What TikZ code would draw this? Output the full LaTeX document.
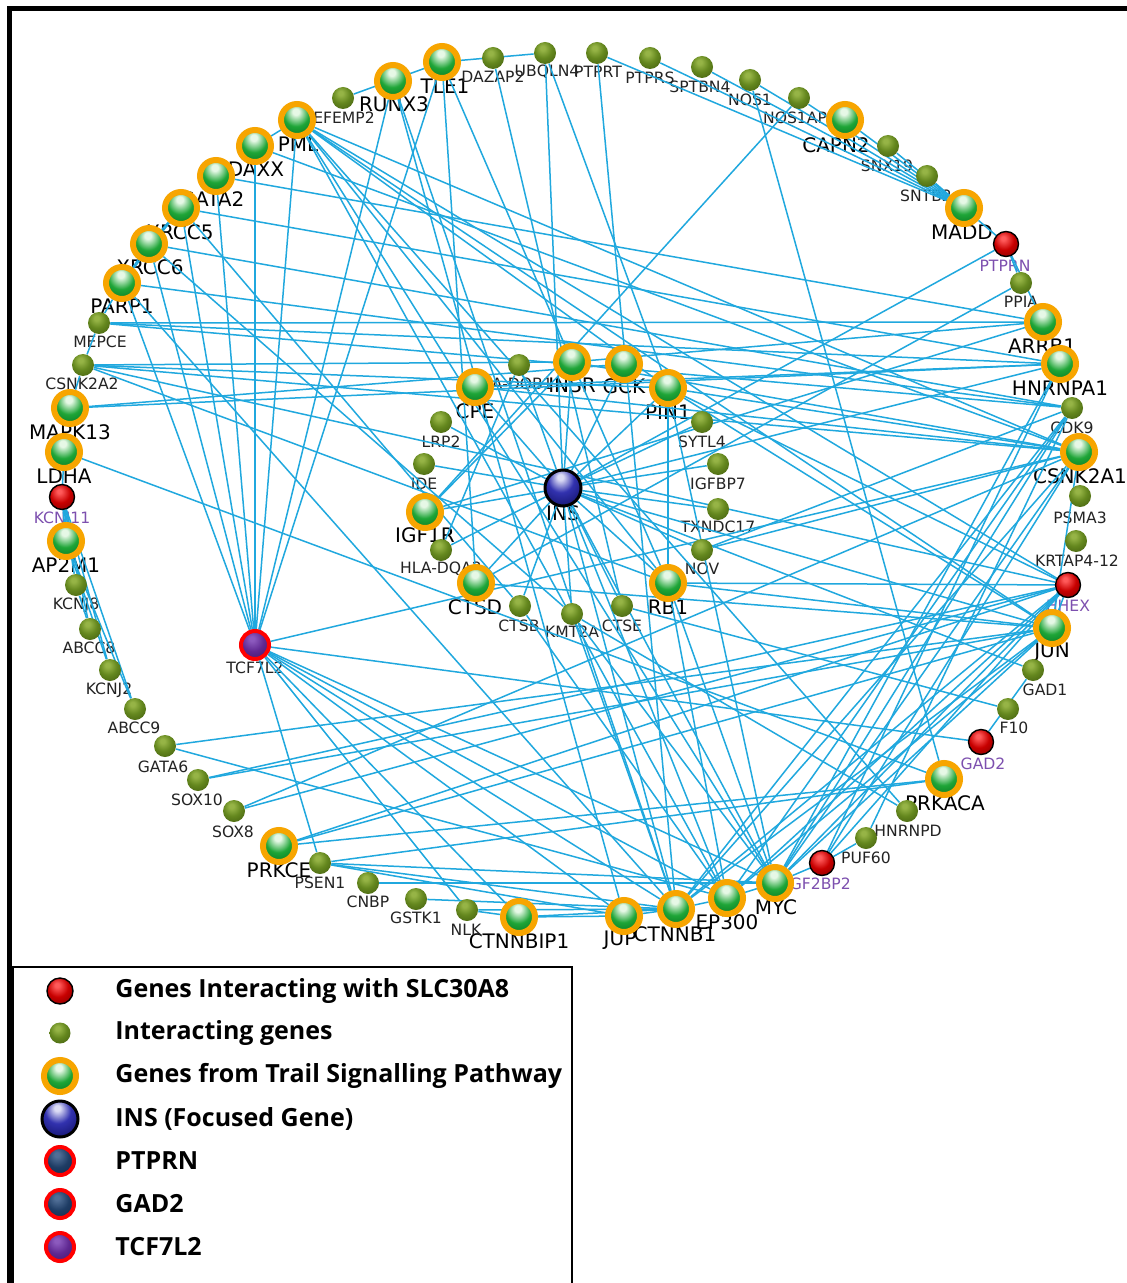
\documentclass[tikz,border=0pt]{standalone}
\usepackage{fontspec}
\setmainfont{DejaVu Sans}
\newfontfamily\lgf{Open Sans}
\pgfdeclarelayer{lab}
\pgfdeclarelayer{fg}
\pgfsetlayers{lab,main,fg}
\definecolor{cyn}{RGB}{32,168,222}
\definecolor{org}{RGB}{247,165,0}
\definecolor{plab}{RGB}{125,80,175}
\definecolor{gHi}{RGB}{230,248,230}\definecolor{gMid}{RGB}{30,165,55}\definecolor{gDk}{RGB}{0,100,25}
\definecolor{oHi}{RGB}{150,180,70}\definecolor{oMid}{RGB}{100,135,30}\definecolor{oDk}{RGB}{60,85,12}
\definecolor{rHi}{RGB}{255,90,90}\definecolor{rMid}{RGB}{200,0,0}\definecolor{rDk}{RGB}{110,0,0}
\definecolor{bHi}{RGB}{220,220,245}\definecolor{bMid}{RGB}{50,50,175}\definecolor{bDk}{RGB}{10,10,90}
\definecolor{nHi}{RGB}{80,110,150}\definecolor{nMid}{RGB}{30,60,100}\definecolor{nDk}{RGB}{15,35,65}
\definecolor{pHi}{RGB}{140,90,190}\definecolor{pMid}{RGB}{95,40,145}\definecolor{pDk}{RGB}{55,20,95}
\pgfdeclareradialshading{gball}{\pgfqpoint{-2bp}{14bp}}{color(0bp)=(gHi); color(5bp)=(gHi); color(20bp)=(gMid); color(42bp)=(gDk); color(70bp)=(gDk)}
\pgfdeclareradialshading{oball}{\pgfqpoint{-6bp}{12bp}}{color(0bp)=(oHi); color(5bp)=(oHi); color(20bp)=(oMid); color(44bp)=(oDk); color(70bp)=(oDk)}
\pgfdeclareradialshading{rball}{\pgfqpoint{-6bp}{12bp}}{color(0bp)=(rHi); color(4bp)=(rHi); color(20bp)=(rMid); color(44bp)=(rDk); color(70bp)=(rDk)}
\pgfdeclareradialshading{bball}{\pgfqpoint{-4bp}{16bp}}{color(0bp)=(bHi); color(4bp)=(bHi); color(18bp)=(bMid); color(42bp)=(bDk); color(70bp)=(bDk)}
\pgfdeclareradialshading{nball}{\pgfqpoint{-6bp}{12bp}}{color(0bp)=(nHi); color(4bp)=(nHi); color(20bp)=(nMid); color(44bp)=(nDk); color(70bp)=(nDk)}
\pgfdeclareradialshading{pball}{\pgfqpoint{-6bp}{12bp}}{color(0bp)=(pHi); color(4bp)=(pHi); color(20bp)=(pMid); color(44bp)=(pDk); color(70bp)=(pDk)}
\tikzset{
  sm/.style={circle, inner sep=0pt, minimum size=11pt, shading=oball},
  tr/.style={circle, inner sep=0pt, minimum size=16pt, line width=3pt, draw=org, shading=gball},
  rd/.style={circle, inner sep=0pt, minimum size=12.5pt, draw=black, line width=0.7pt, shading=rball},
  insn/.style={circle, inner sep=0pt, minimum size=18pt, draw=black, line width=1.5pt, shading=bball},
  tcf/.style={circle, inner sep=0pt, minimum size=14pt, draw=red, line width=2pt, shading=pball},
  ptp/.style={circle, inner sep=0pt, minimum size=14pt, draw=red, line width=2pt, shading=nball},
  bl/.style={inner sep=0pt, font=\fontsize{10}{10}\selectfont, text=black},
  sl/.style={inner sep=0pt, font=\fontsize{7.8}{8}\selectfont, text={rgb,255:red,35;green,35;blue,35}},
  pl/.style={inner sep=0pt, font=\fontsize{7.8}{8}\selectfont, text=plab},
  lnk/.style={draw=cyn, line width=0.75pt},
  lgt/.style={anchor=west, inner sep=0pt, font=\lgf\bfseries\fontsize{12.5}{13}\selectfont}
}
\newcommand{\gene}[6]{%
  \begin{pgfonlayer}{fg}\node[#1] (#2) at (#3) {};\end{pgfonlayer}%
  \begin{pgfonlayer}{lab}\node[#4] at (#5) {#6};\end{pgfonlayer}}
\begin{document}
\begin{tikzpicture}[x=0.5pt,y=-0.5pt]
\useasboundingbox (0,0) rectangle (1127,1283);
\begin{pgfonlayer}{lab}
\fill[white] (0,0) rectangle (1127,1283);
\end{pgfonlayer}
% outer ring
\gene{tr}{TLE1}{442,62}{bl}{445,86}{TLE1}
\gene{sm}{DAZAP2}{493,58}{sl}{493,77}{DAZAP2}
\gene{sm}{UBQLN4}{545,53}{sl}{547,72}{UBQLN4}
\gene{sm}{PTPRT}{597,53}{sl}{598,72}{PTPRT}
\gene{sm}{PTPRS}{650,58}{sl}{650,78}{PTPRS}
\gene{sm}{SPTBN4}{702,67}{sl}{700,87}{SPTBN4}
\gene{sm}{NOS1}{750,80}{sl}{750,100}{NOS1}
\gene{sm}{NOS1AP}{799,98}{sl}{795,118}{NOS1AP}
\gene{tr}{CAPN2}{845,120}{bl}{836,145}{CAPN2}
\gene{sm}{SNX19}{888,146}{sl}{887,166}{SNX19}
\gene{sm}{SNTB2}{927,176}{sl}{926,196}{SNTB2}
\gene{tr}{MADD}{964,208}{bl}{962,232}{MADD}
\gene{rd}{PTPRN}{1006,244}{pl}{1005,266}{PTPRN}
\gene{sm}{PPIA}{1021,283}{sl}{1021,302}{PPIA}
\gene{tr}{ARRB1}{1043,322}{bl}{1042,346}{ARRB1}
\gene{tr}{HNRNPA1}{1060,364}{bl}{1060,388}{HNRNPA1}
\gene{sm}{CDK9}{1072,408}{sl}{1072,428}{CDK9}
\gene{tr}{CSNK2A1}{1079,452}{bl}{1080,476}{CSNK2A1}
\gene{sm}{PSMA3}{1080,496}{sl}{1080,518}{PSMA3}
\gene{sm}{KRTAP}{1076,541}{sl}{1077,561}{KRTAP4-12}
\gene{rd}{HHEX}{1068,585}{pl}{1068,606}{HHEX}
\gene{tr}{JUN}{1052,628}{bl}{1052,652}{JUN}
\gene{sm}{GAD1}{1033,670}{sl}{1045,690}{GAD1}
\gene{sm}{F10}{1008,709}{sl}{1014,728}{F10}
\gene{rd}{GAD2}{981,742}{pl}{983,764}{GAD2}
\gene{tr}{PRKACA}{944,779}{bl}{945,803}{PRKACA}
\gene{sm}{HNRNPD}{907,811}{sl}{908,831}{HNRNPD}
\gene{sm}{PUF60}{866,838}{sl}{866,858}{PUF60}
\gene{rd}{IGF2BP2}{822,863}{pl}{818,884}{IGF2BP2}
\gene{tr}{MYC}{775,883}{bl}{776,907}{MYC}
\gene{tr}{EP300}{727,898}{bl}{727,922}{EP300}
\gene{tr}{CTNNB1}{676,909}{bl}{675,934}{CTNNB1}
\gene{tr}{JUP}{624,916}{bl}{620,940}{JUP}
\gene{tr}{CTNNBIP1}{519,917}{bl}{519,941}{CTNNBIP1}
\gene{sm}{NLK}{467,910}{sl}{466,930}{NLK}
\gene{sm}{GSTK1}{416,899}{sl}{416,918}{GSTK1}
\gene{sm}{CNBP}{368,883}{sl}{368,902}{CNBP}
\gene{sm}{PSEN1}{320,863}{sl}{320,883}{PSEN1}
\gene{tr}{PRKCE}{279,846}{bl}{279,870}{PRKCE}
\gene{sm}{SOX8}{234,811}{sl}{233,832}{SOX8}
\gene{sm}{SOX10}{198,780}{sl}{197,800}{SOX10}
\gene{sm}{GATA6}{165,746}{sl}{163,767}{GATA6}
\gene{sm}{ABCC9}{135,709}{sl}{134,728}{ABCC9}
\gene{sm}{KCNJ2}{110,670}{sl}{109,690}{KCNJ2}
\gene{sm}{ABCC8}{90,629}{sl}{89,648}{ABCC8}
\gene{sm}{KCNJ8}{76,585}{sl}{76,605}{KCNJ8}
\gene{tr}{AP2M1}{66,541}{bl}{66,565}{AP2M1}
\gene{rd}{KCNJ11}{62,497}{pl}{62,519}{KCNJ11}
\gene{tr}{LDHA}{64,452}{bl}{64,476}{LDHA}
\gene{tr}{MAPK13}{70,408}{bl}{70,432}{MAPK13}
\gene{sm}{CSNK2A2}{83,365}{sl}{82,384}{CSNK2A2}
\gene{sm}{MEPCE}{99,323}{sl}{100,342}{MEPCE}
\gene{tr}{PARP1}{122,283}{bl}{122,306}{PARP1}
\gene{tr}{XRCC6}{149,244}{bl}{150,267}{XRCC6}
\gene{tr}{XRCC5}{181,208}{bl}{180,232}{XRCC5}
\gene{tr}{GATA2}{216,176}{bl}{212,199}{GATA2}
\gene{tr}{DAXX}{255,146}{bl}{256,169}{DAXX}
\gene{tr}{PML}{297,120}{bl}{298,144}{PML}
\gene{sm}{EFEMP2}{343,98}{sl}{344,118}{EFEMP2}
\gene{tr}{RUNX3}{393,81}{bl}{394,104}{RUNX3}
% inner ring
\gene{tr}{INSR}{572,362}{bl}{572,385}{INSR}
\gene{tr}{GCK}{624,364}{bl}{624,386}{GCK}
\gene{tr}{PIN1}{668,388}{bl}{668,412}{PIN1}
\gene{sm}{SYTL4}{702,422}{sl}{702,442}{SYTL4}
\gene{sm}{IGFBP7}{718,464}{sl}{718,484}{IGFBP7}
\gene{sm}{TXNDC17}{718,509}{sl}{718,527}{TXNDC17}
\gene{sm}{NOV}{702,550}{sl}{702,569}{NOV}
\gene{tr}{RB1}{668,583}{bl}{668,607}{RB1}
\gene{sm}{CTSE}{622,606}{sl}{622,626}{CTSE}
\gene{sm}{KMT2A}{572,614}{sl}{572,632}{KMT2A}
\gene{sm}{CTSB}{520,606}{sl}{519,626}{CTSB}
\gene{tr}{CTSD}{476,583}{bl}{475,607}{CTSD}
\gene{sm}{DQA2}{441,550}{sl}{441,569}{HLA-DQA2}
\gene{tr}{IGF1R}{425,512}{bl}{425,535}{IGF1R}
\gene{sm}{IDE}{424,464}{sl}{424,484}{IDE}
\gene{sm}{LRP2}{441,422}{sl}{441,442}{LRP2}
\gene{tr}{CPE}{475,387}{bl}{475,411}{CPE}
\gene{sm}{DQB1}{519,365}{sl}{512,385}{HLA-DQB1}
\gene{insn}{INS}{563,488}{bl}{563,513}{INS}
\gene{tcf}{TCF7L2}{255,645}{sl}{255,668}{TCF7L2}
% connectors
\foreach \a/\b in {INS/INSR,INS/GCK,INS/PIN1,INS/CPE,INS/DQB1,INS/LRP2,INS/IDE,INS/IGF1R,INS/DQA2,INS/CTSD,INS/CTSB,INS/KMT2A,INS/CTSE,INS/RB1,INS/NOV,INS/TXNDC17,INS/IGFBP7,INS/SYTL4,INS/UBQLN4,INS/PTPRN,INS/CTNNB1,INS/EP300,INS/MYC,INS/JUN,INS/GAD1,INS/HNRNPA1,
TCF7L2/PARP1,TCF7L2/XRCC6,TCF7L2/XRCC5,TCF7L2/GATA2,TCF7L2/DAXX,TCF7L2/PML,TCF7L2/RUNX3,TCF7L2/TLE1,TCF7L2/CSNK2A1,TCF7L2/PSEN1,TCF7L2/NLK,TCF7L2/CTNNBIP1,TCF7L2/JUP,TCF7L2/CTNNB1,TCF7L2/EP300,TCF7L2/MYC,TCF7L2/GAD2,
PML/JUN,PML/PIN1,PML/RB1,PML/MYC,PML/CSNK2A1,PML/HHEX,PML/DAXX,PML/EP300,PML/HNRNPD,
DAXX/CSNK2A1,GATA2/ARRB1,XRCC5/HNRNPA1,XRCC6/CDK9,XRCC6/XRCC5,XRCC6/PARP1,XRCC5/PARP1,XRCC6/KMT2A,XRCC5/CTSB,
PARP1/CDK9,PARP1/CTNNB1,MEPCE/CDK9,MEPCE/HNRNPA1,MEPCE/ARRB1,MEPCE/CSNK2A2,MEPCE/PARP1,
CSNK2A2/CSNK2A1,CSNK2A2/PIN1,CSNK2A2/INSR,CSNK2A2/RB1,CSNK2A2/MAPK13,CSNK2A2/HHEX,
MAPK13/HNRNPA1,MAPK13/GCK,LDHA/PRKACA,LDHA/KCNJ11,
KCNJ11/AP2M1,KCNJ11/KCNJ8,KCNJ11/ABCC8,KCNJ11/KCNJ2,KCNJ11/ABCC9,AP2M1/ABCC9,AP2M1/KCNJ2,KCNJ8/ABCC8,
GATA6/JUN,GATA6/EP300,SOX10/HHEX,SOX10/JUN,SOX8/HHEX,SOX8/CSNK2A1,
PRKCE/HHEX,PRKCE/JUN,PRKCE/PRKACA,PSEN1/CTNNB1,PSEN1/JUP,PSEN1/MYC,PSEN1/PRKACA,
CNBP/MYC,GSTK1/CTNNB1,NLK/CTNNB1,NLK/CTNNBIP1,CTNNBIP1/CTNNB1,CTNNBIP1/JUP,
JUP/CTNNB1,JUP/RUNX3,CTNNB1/EP300,CTNNB1/RUNX3,CTNNB1/PTPRT,CTNNB1/CSNK2A1,CTNNB1/HHEX,CTNNB1/JUN,CTNNB1/KMT2A,CTNNB1/CDK9,
EP300/MYC,EP300/JUN,EP300/HHEX,EP300/CDK9,EP300/RB1,EP300/CTSB,
MYC/CDK9,MYC/CSNK2A1,MYC/HNRNPA1,MYC/JUN,MYC/HHEX,MYC/PIN1,MYC/KMT2A,MYC/IGF2BP2,
IGF2BP2/HHEX,IGF2BP2/CSNK2A1,IGF2BP2/PUF60,IGF2BP2/HNRNPA1,
PUF60/CDK9,HNRNPD/KMT2A,PRKACA/NOS1,GAD2/GAD1,F10/CTSE,
JUN/HHEX,JUN/PIN1,JUN/RB1,JUN/CSNK2A1,JUN/CTSD,HHEX/RB1,HHEX/PIN1,
CSNK2A1/PIN1,CSNK2A1/INSR,CSNK2A1/NOV,CSNK2A1/CPE,CDK9/NOV,HNRNPA1/CPE,
ARRB1/IGF1R,ARRB1/PTPRN,ARRB1/INSR,PPIA/PTPRN,PPIA/CTSD,
MADD/PTPRT,MADD/PTPRS,MADD/SPTBN4,MADD/NOS1,MADD/NOS1AP,MADD/CAPN2,MADD/SNX19,MADD/SNTB2,MADD/PTPRN,
NOS1AP/IGF1R,UBQLN4/PIN1,DAZAP2/CTSE,TLE1/CTSD,TLE1/RB1,TLE1/UBQLN4,EFEMP2/TLE1,
INSR/IGF1R,DQB1/DQA2,RB1/PIN1,RB1/MYC}
  \draw[lnk] (\a) -- (\b);
% frame
\draw[line width=2.3pt] (9.5,1290) -- (9.5,8.5) -- (1135,8.5);
% legend
\draw[line width=1pt,fill=white] (13,1290) -- (13,967) -- (572,967) -- (572,1290);
\node[rd, minimum size=13pt] (S1) at (60,991) {};
\node[sm, minimum size=10.5pt] (S2) at (60,1033) {};
\node[tr] (S3) at (60,1076) {};
\node[insn] (S4) at (60,1119) {};
\node[ptp] (S5) at (60,1161) {};
\node[ptp] (S6) at (60,1204) {};
\node[tcf] (S7) at (60,1247) {};
\node[lgt] (T1) at (115,991) {Genes Interacting with SLC30A8};
\node[lgt] (T2) at (115,1033) {Interacting genes};
\node[lgt] (T3) at (115,1076) {Genes from Trail Signalling Pathway};
\node[lgt] (T4) at (115,1119) {INS (Focused Gene)};
\node[lgt] (T5) at (115,1161) {PTPRN};
\node[lgt] (T6) at (115,1204) {GAD2};
\node[lgt] (T7) at (115,1247) {TCF7L2};
\end{tikzpicture}
\end{document}
